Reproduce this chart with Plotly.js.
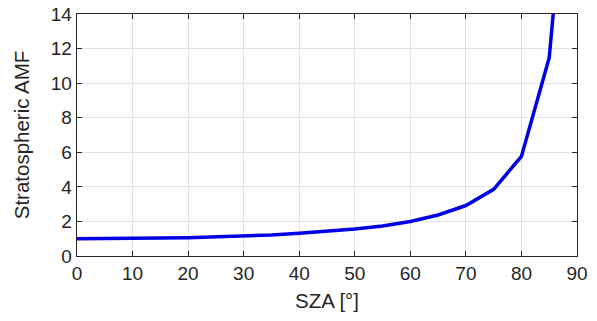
<!DOCTYPE html>
<html>
<head>
<meta charset="utf-8">
<script src="https://cdn.plot.ly/plotly-3.0.1.min.js"></script>
<style>html,body{margin:0;padding:0;background:#fff;}#chart{width:597px;height:321px;}</style>
</head>
<body>
<div id="chart"></div>
<script>
const sza = [0, 5, 10, 15, 20, 25, 30, 35, 40, 45, 50, 55, 60, 65, 70, 75, 80, 85, 86];
const amf = [1.0, 1.0, 1.02, 1.04, 1.06, 1.10, 1.15, 1.22, 1.31, 1.41, 1.56, 1.74, 2.0, 2.37, 2.92, 3.86, 5.76, 11.47, 15.0];
const xTicks = [0, 10, 20, 30, 40, 50, 60, 70, 80, 90];
const yTicks = [0, 2, 4, 6, 8, 10, 12, 14];

const FONT = 'Liberation Sans, Arial, sans-serif';
const axisCommon = {
  showline: true, linecolor: '#262626', linewidth: 1.3, mirror: 'ticks',
  ticks: 'inside', ticklen: 5, tickwidth: 1, tickcolor: '#262626',
  showgrid: true, gridcolor: '#e3e3e3', gridwidth: 1, zeroline: false,
  tickfont: {family: FONT, size: 19, color: '#262626'}
};

Plotly.newPlot('chart', [{
  x: sza, y: amf, type: 'scatter', mode: 'lines',
  line: {color: '#0000e6', width: 3.5}, cliponaxis: true
}], {
  width: 597, height: 321,
  margin: {l: 77, r: 20, t: 14, b: 65},
  paper_bgcolor: '#fff', plot_bgcolor: '#fff',
  showlegend: false,
  xaxis: Object.assign({}, axisCommon, {
    range: [0, 90], tickvals: xTicks, ticktext: xTicks.map(String),
    title: {text: 'SZA [°]', font: {family: FONT, size: 20.5, color: '#262626'}, standoff: 10}
  }),
  yaxis: Object.assign({}, axisCommon, {
    range: [0, 14], tickvals: yTicks, ticktext: yTicks.map(String),
    title: {text: 'Stratospheric AMF', font: {family: FONT, size: 20.5, color: '#262626'}, standoff: 15}
  })
}, {displayModeBar: false, staticPlot: true});
</script>
</body>
</html>
